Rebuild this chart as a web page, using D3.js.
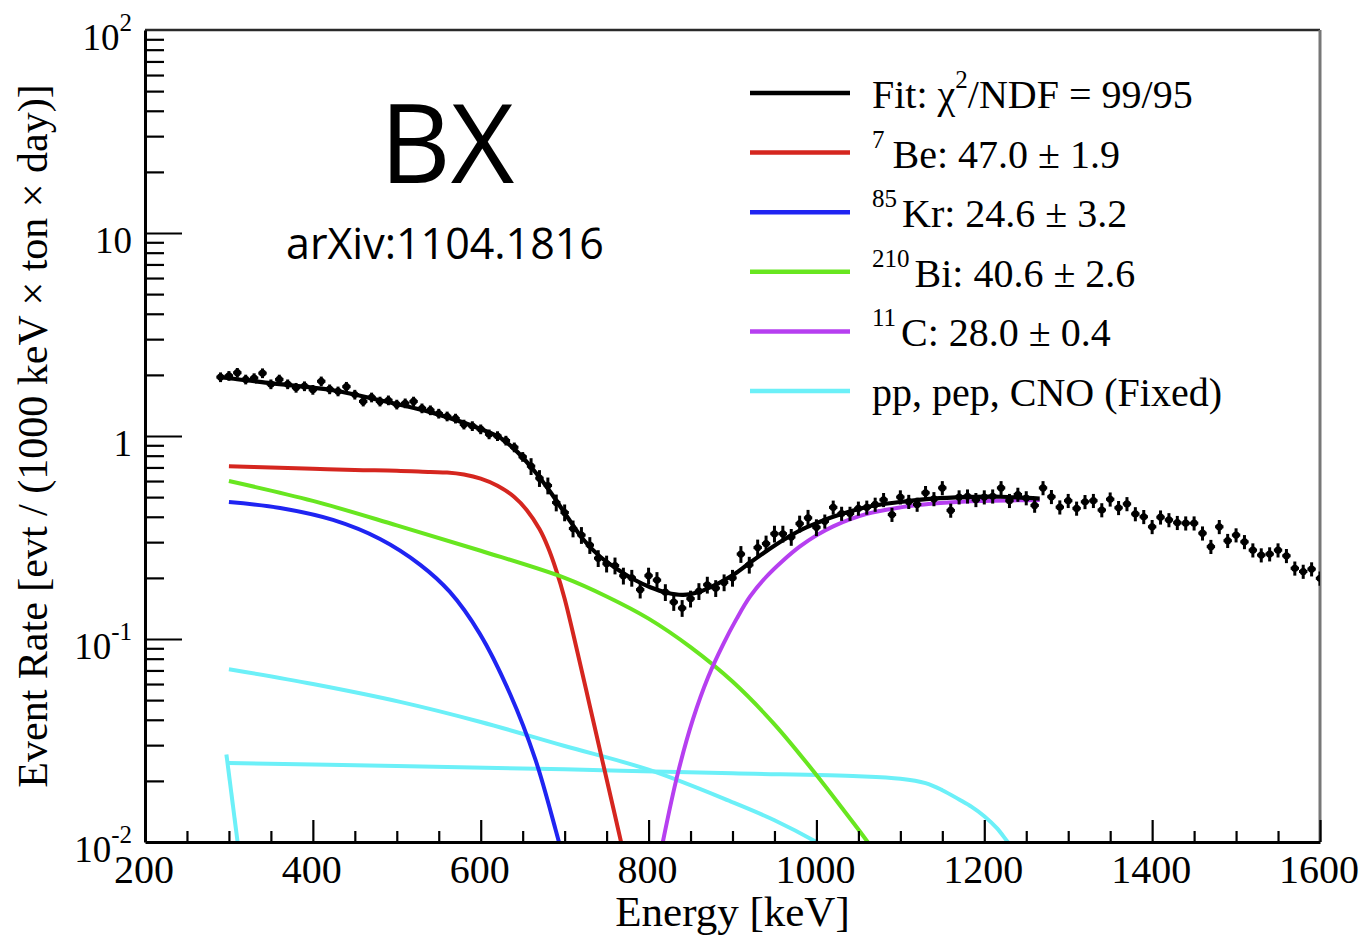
<!DOCTYPE html>
<html>
<head>
<meta charset="utf-8">
<script src="https://cdn.jsdelivr.net/npm/d3@7"></script>
<style>
  body { margin: 0; background: #fff; }
  svg text { font-family: "Liberation Serif", "Times New Roman", serif; fill: #000; }
</style>
</head>
<body>
<svg id="chart" width="1367" height="937"></svg>
<script>
// ---------- data ----------
// Measured spectrum: 10 keV bins, rate in evt / (1000 keV x ton x day)
const binEnergy = d3.range(290, 1601, 10);
const measuredRate = [
  1.95, 1.98, 2.05, 1.90, 1.93, 2.04, 1.80, 1.90, 1.80, 1.73,
  1.76, 1.69, 1.86, 1.70, 1.66, 1.75, 1.60, 1.48, 1.55, 1.48,
  1.50, 1.43, 1.45, 1.48, 1.37, 1.34, 1.29, 1.25, 1.22, 1.14,
  1.12, 1.08, 1.02, 1.00, 0.95, 0.88, 0.79, 0.71, 0.62, 0.57,
  0.47, 0.42, 0.35, 0.325, 0.29, 0.25, 0.235, 0.23, 0.205, 0.20,
  0.175, 0.205, 0.195, 0.17, 0.152, 0.142, 0.158, 0.172, 0.185, 0.178,
  0.19, 0.200, 0.262, 0.232, 0.282, 0.295, 0.33, 0.33, 0.318, 0.37,
  0.395, 0.355, 0.38, 0.445, 0.415, 0.415, 0.44, 0.445, 0.46, 0.485,
  0.41, 0.50, 0.475, 0.46, 0.525, 0.49, 0.555, 0.43, 0.50, 0.505,
  0.485, 0.50, 0.505, 0.555, 0.48, 0.515, 0.495, 0.455,
  0.555, 0.502, 0.446, 0.480, 0.440, 0.474, 0.480, 0.432, 0.488, 0.443,
  0.463, 0.413, 0.400, 0.357, 0.398, 0.386, 0.374, 0.372, 0.372, 0.332,
  0.285, 0.357, 0.305, 0.325, 0.301, 0.274, 0.259, 0.262, 0.274, 0.257,
  0.223, 0.215, 0.221, 0.199
];
// relative statistical uncertainty, by upper energy edge of each band
const relErrBands = [[650, 0.055], [1000, 0.095], [1600, 0.08]];

// Total fit
const fitEnergy = [292, 298, 350, 424, 480, 543, 603, 625, 643, 663, 683, 703, 722, 742, 762, 782, 802, 822, 841, 861, 881, 901, 921, 941, 961, 980, 1000, 1020, 1060, 1100, 1139, 1179, 1219, 1266];
const fitRate   = [1.95, 1.93, 1.82, 1.68, 1.50, 1.30, 1.07, 0.97, 0.84, 0.68, 0.53, 0.40, 0.31, 0.255, 0.222, 0.197, 0.180, 0.169, 0.165, 0.171, 0.186, 0.207, 0.238, 0.272, 0.308, 0.342, 0.372, 0.400, 0.447, 0.473, 0.492, 0.500, 0.502, 0.492];

// Fit components
const be7Energy = [300, 350, 400, 450, 500, 540, 560, 580, 600, 620, 640, 655, 670, 680, 690, 700, 715, 730, 745, 760, 770];
const be7Rate   = [0.71, 0.70, 0.69, 0.68, 0.675, 0.665, 0.661, 0.646, 0.617, 0.569, 0.501, 0.431, 0.348, 0.284, 0.218, 0.158, 0.0871, 0.0468, 0.0251, 0.0135, 0.0089];

const kr85Energy = [300, 361, 424, 480, 528, 563, 599, 635, 665, 689, 700];
const kr85Rate   = [0.473, 0.442, 0.386, 0.311, 0.232, 0.171, 0.106, 0.0536, 0.0256, 0.0116, 0.0078];

const bi210Energy = [300, 400, 500, 600, 700, 750, 800, 850, 900, 950, 1000, 1030, 1061, 1075];
const bi210Rate   = [0.600, 0.479, 0.363, 0.272, 0.200, 0.162, 0.126, 0.0912, 0.0617, 0.0380, 0.0214, 0.0148, 0.0100, 0.0081];

const c11Energy = [808, 817, 835, 853, 871, 889, 905, 921, 940, 960, 980, 1000, 1020, 1059, 1100, 1139, 1179, 1266];
const c11Rate   = [0.0063, 0.01, 0.0219, 0.0404, 0.065, 0.0944, 0.126, 0.162, 0.202, 0.243, 0.285, 0.324, 0.359, 0.412, 0.445, 0.465, 0.476, 0.484];

const cnoEnergy = [300, 400, 504, 600, 700, 800, 900, 950, 1000, 1020];
const cnoRate   = [0.071, 0.060, 0.049, 0.039, 0.0297, 0.0227, 0.0157, 0.0128, 0.0100, 0.0089];

const pepEnergy = [300, 500, 700, 900, 1050, 1100, 1130, 1150, 1170, 1185, 1200, 1215, 1228, 1240];
const pepRate   = [0.0245, 0.0237, 0.0228, 0.0218, 0.0211, 0.0205, 0.0195, 0.018, 0.0162, 0.0149, 0.0134, 0.0117, 0.0100, 0.0087];

const ppEnergy = [297, 311];
const ppRate   = [0.027, 0.0095];

// Axis ticks
const xMajorTicks = [200, 400, 600, 800, 1000, 1200, 1400, 1600];
const xTickLabels = ["200", "400", "600", "800", "1000", "1200", "1400", "1600"];
const xMinorTicks = [250, 300, 350, 450, 500, 550, 650, 700, 750, 850, 900, 950, 1050, 1100, 1150, 1250, 1300, 1350, 1450, 1500, 1550];
const yMajorTicks = [0.01, 0.1, 1, 10, 100];
const yTickLabels = [["10", "-2"], ["10", "-1"], ["1", ""], ["10", ""], ["10", "2"]];
const yMinorTicks = [0.02, 0.03, 0.04, 0.05, 0.06, 0.07, 0.08, 0.09,
                     0.2, 0.3, 0.4, 0.5, 0.6, 0.7, 0.8, 0.9,
                     2, 3, 4, 5, 6, 7, 8, 9,
                     20, 30, 40, 50, 60, 70, 80, 90];

// Legend entries: [text, superscript flag]
const legendEntries = [
  { color: "#000000", parts: [["Fit: χ", 0], ["2", 1], ["/NDF = 99/95", 0]], gap: 0 },
  { color: "#d5261f", parts: [["7", 1], ["Be: 47.0 ± 1.9", 0]], gap: 8 },
  { color: "#1f24f2", parts: [["85", 1], ["Kr: 24.6 ± 3.2", 0]], gap: 5 },
  { color: "#68e620", parts: [["210", 1], ["Bi: 40.6 ± 2.6", 0]], gap: 5 },
  { color: "#b63ff0", parts: [["11", 1], ["C: 28.0 ± 0.4", 0]], gap: 5 },
  { color: "#6cf0f8", parts: [["pp, pep, CNO (Fixed)", 0]], gap: 0 }
];

// ---------- drawing ----------
const svg = d3.select("#chart");
const L = 145, R = 1320, T = 30, B = 842;
const x = d3.scaleLinear().domain([200, 1600]).range([L, R]);
const y = d3.scaleLog().domain([0.01, 100]).range([B, T]);

svg.append("defs").append("clipPath").attr("id", "plotArea")
  .append("rect").attr("x", L).attr("y", T).attr("width", R - L).attr("height", B - T);

// frame (top and right)
svg.append("line").attr("x1", L).attr("x2", R).attr("y1", T).attr("y2", T)
  .attr("stroke", "#2a2a2a").attr("stroke-width", 2.5);
svg.append("line").attr("x1", R).attr("x2", R).attr("y1", T).attr("y2", B)
  .attr("stroke", "#777").attr("stroke-width", 3);

// component curves
const curveLine = d3.line().curve(d3.curveCatmullRom.alpha(0.5))
  .x(d => x(d[0])).y(d => y(d[1]));
const curves = svg.append("g").attr("clip-path", "url(#plotArea)");
function drawCurve(E, V, color, w) {
  curves.append("path")
    .datum(d3.zip(E, V))
    .attr("d", curveLine)
    .attr("fill", "none")
    .attr("stroke", color)
    .attr("stroke-width", w)
    .attr("stroke-linejoin", "round");
}
drawCurve(ppEnergy, ppRate, legendEntries[5].color, 4);
drawCurve(pepEnergy, pepRate, legendEntries[5].color, 4);
drawCurve(cnoEnergy, cnoRate, legendEntries[5].color, 4);
drawCurve(be7Energy, be7Rate, legendEntries[1].color, 4);
drawCurve(kr85Energy, kr85Rate, legendEntries[2].color, 4);
drawCurve(bi210Energy, bi210Rate, legendEntries[3].color, 4);
drawCurve(c11Energy, c11Rate, legendEntries[4].color, 4);

// data points with error bars
const relErr = e => relErrBands.find(b => e <= b[0])[1];
const pts = svg.append("g").attr("clip-path", "url(#plotArea)")
  .selectAll("g").data(d3.zip(binEnergy, measuredRate)).join("g");
pts.append("line")
  .attr("x1", d => x(d[0])).attr("x2", d => x(d[0]))
  .attr("y1", d => y(d[1] * (1 + relErr(d[0]))))
  .attr("y2", d => y(d[1] * (1 - relErr(d[0]))))
  .attr("stroke", "#000").attr("stroke-width", 3);
pts.append("line")
  .attr("x1", d => x(d[0] - 5)).attr("x2", d => x(d[0] + 5))
  .attr("y1", d => y(d[1])).attr("y2", d => y(d[1]))
  .attr("stroke", "#000").attr("stroke-width", 3);
pts.append("circle")
  .attr("cx", d => x(d[0])).attr("cy", d => y(d[1])).attr("r", 3.6)
  .attr("fill", "#000");

// total fit
drawCurve(fitEnergy, fitRate, "#000", 4.2);

// axes
function styleAxis(g, w) {
  g.selectAll("line").attr("stroke", "#000").attr("stroke-width", w);
  g.selectAll("path").attr("stroke", "#000").attr("stroke-width", 3);
  g.selectAll("text").remove();
}
svg.append("g").attr("transform", `translate(0,${B})`)
  .call(d3.axisBottom(x).tickValues(xMinorTicks).tickSize(-11).tickSizeOuter(0).tickFormat(""))
  .call(g => { styleAxis(g, 2.2); g.select("path").remove(); });
svg.append("g").attr("transform", `translate(0,${B})`)
  .call(d3.axisBottom(x).tickValues(xMajorTicks).tickSize(-22).tickSizeOuter(0).tickFormat(""))
  .call(g => styleAxis(g, 2.2));
svg.append("g").attr("transform", `translate(${L},0)`)
  .call(d3.axisLeft(y).tickValues(yMinorTicks).tickSize(-19).tickSizeOuter(0).tickFormat(""))
  .call(g => { styleAxis(g, 2.2); g.select("path").remove(); });
svg.append("g").attr("transform", `translate(${L},0)`)
  .call(d3.axisLeft(y).tickValues(yMajorTicks.slice(1, -1)).tickSize(-37).tickSizeOuter(0).tickFormat(""))
  .call(g => styleAxis(g, 2.2));

// x tick labels
svg.append("g").selectAll("text").data(d3.zip(xMajorTicks, xTickLabels)).join("text")
  .attr("x", d => x(d[0]) - 1).attr("y", 883)
  .attr("text-anchor", "middle").attr("font-size", 40)
  .text(d => d[1]);

// y tick labels with exponents
const yl = svg.append("g").selectAll("text").data(d3.zip(yMajorTicks, yTickLabels)).join("text")
  .attr("x", 132).attr("y", d => y(d[0]) + 20)
  .attr("text-anchor", "end").attr("font-size", 37);
yl.append("tspan").text(d => d[1][0]);
yl.filter(d => d[1][1] !== "").append("tspan")
  .attr("font-size", 25).attr("dy", -19).text(d => d[1][1]);

// axis titles
svg.append("text").attr("x", (L + R) / 2).attr("y", 926)
  .attr("text-anchor", "middle").attr("font-size", 43)
  .text("Energy [keV]");
svg.append("text").attr("transform", `translate(47,${(T + B) / 2}) rotate(-90)`)
  .attr("text-anchor", "middle").attr("font-size", 42)
  .text("Event Rate [evt / (1000 keV × ton × day)]");

// annotations
svg.append("text").attr("x", 447).attr("y", 183)
  .attr("text-anchor", "middle").attr("font-size", 110)
  .style("font-family", "'Open Sans', Lato, sans-serif").style("font-weight", 500)
  .text("BX");
svg.append("text").attr("x", 445).attr("y", 259)
  .attr("text-anchor", "middle").attr("font-size", 43)
  .style("font-family", "'Open Sans', Lato, sans-serif").style("font-weight", 500)
  .text("arXiv:1104.1816");

// legend
const legend = svg.append("g");
legendEntries.forEach((entry, i) => {
  const ly = 93 + i * 59.6;
  legend.append("line").attr("x1", 750).attr("x2", 850).attr("y1", ly).attr("y2", ly)
    .attr("stroke", entry.color).attr("stroke-width", 4.5);
  const t = legend.append("text").attr("x", 872).attr("y", ly + 15).attr("font-size", 40);
  let raised = false;
  entry.parts.forEach(([s, sup]) => {
    const ts = t.append("tspan").text(s);
    if (sup) {
      ts.attr("font-size", 25).attr("dy", -20);
      raised = true;
    } else if (raised) {
      ts.attr("dy", 20).attr("dx", entry.gap);
      raised = false;
    }
  });
});
</script>
</body>
</html>
